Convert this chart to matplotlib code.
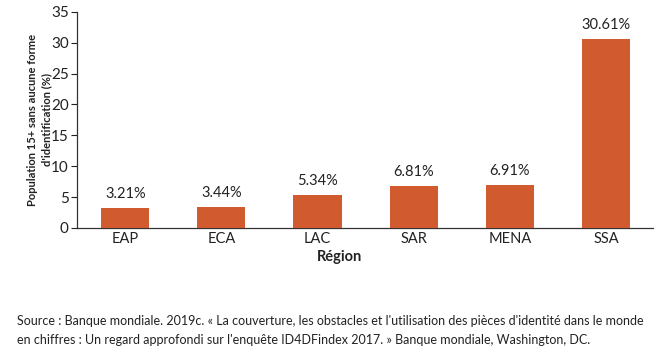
import matplotlib.pyplot as plt

# données
regions = ['EAP', 'ECA', 'LAC', 'SAR', 'MENA', 'SSA']
values = [3.21, 3.44, 5.34, 6.81, 6.91, 30.61]
labels = ['3.21%', '3.44%', '5.34%', '6.81%', '6.91%', '30.61%']

BAR_COLOR = '#D15A2F'
TEXT_COLOR = '#222222'

plt.rcParams['font.family'] = ['Lato', 'DejaVu Sans']

fig = plt.figure(figsize=(6.54, 3.59), dpi=100)
ax = fig.add_axes([0.118, 0.365, 0.882, 0.602])

x = range(len(regions))
bars = ax.bar(x, values, width=0.5, color=BAR_COLOR, zorder=3)
for xi, v, lab in zip(x, values, labels):
    ax.annotate(lab, (xi, v), xytext=(0, 5), textcoords='offset points',
                ha='center', va='bottom', fontsize=10.5, color=TEXT_COLOR)

ax.set_xlim(-0.5, 5.5)
ax.set_ylim(0, 35)
ax.set_yticks(range(0, 36, 5))
ax.set_xticks(list(x))
ax.set_xticklabels(regions)
ax.tick_params(axis='y', labelsize=11, length=4, width=0.8, pad=2, colors=TEXT_COLOR)
ax.tick_params(axis='x', labelsize=10.5, length=0, pad=3, colors=TEXT_COLOR)

for side in ['top', 'right']:
    ax.spines[side].set_visible(False)
for side in ['left', 'bottom']:
    ax.spines[side].set_color('#333333')
    ax.spines[side].set_linewidth(0.9)

ax.set_ylabel("Population 15+ sans aucune forme\nd'identification (%)",
              fontsize=8, fontweight='bold', color=TEXT_COLOR, labelpad=-1,
              linespacing=1.35)

fig.text(340 / 654, 1 - 257 / 359, 'Région', ha='center', va='center',
         fontsize=10.5, fontweight='bold', color=TEXT_COLOR)

src1 = ("Source : Banque mondiale. 2019c. « La couverture, les obstacles et "
        "l'utilisation des pièces d'identité dans le monde")
src2 = ("en chiffres : Un regard approfondi sur l'enquête ID4DFindex 2017. » "
        "Banque mondiale, Washington, DC.")
fig.text(17 / 654, 1 - 321 / 359, src1, ha='left', va='center',
         fontsize=9.0, color=TEXT_COLOR)
fig.text(17 / 654, 1 - 340 / 359, src2, ha='left', va='center',
         fontsize=9.0, color=TEXT_COLOR)

fig.savefig('out.png', dpi=100, facecolor='white')
